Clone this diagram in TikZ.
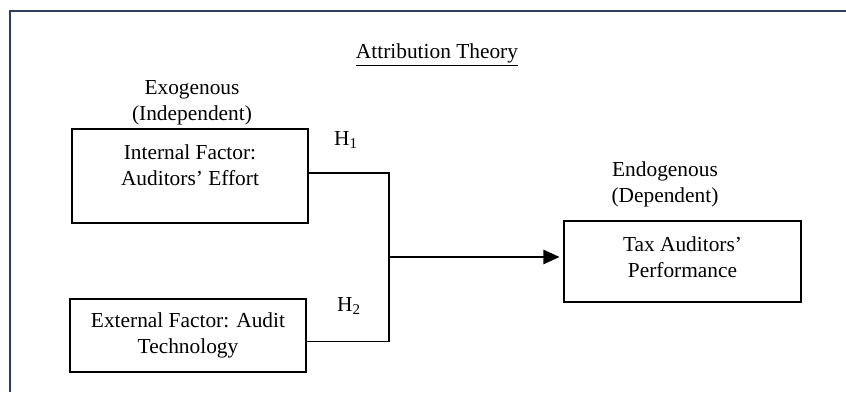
\documentclass[tikz,border=0pt]{standalone}
\usepackage{fontspec}
\setmainfont{Liberation Serif}
\usepackage{xcolor}
\definecolor{framblue}{RGB}{46,62,94}
\usepackage{tikz}
\usetikzlibrary{arrows.meta,positioning,calc}
\tikzset{
  factorbox/.style={draw=black, line width=0.75pt, inner sep=0pt},
  boxlabel/.style={align=center, inner sep=0pt, font=\fontsize{15.2}{18.5}\selectfont},
  plainlabel/.style={align=center, inner sep=0pt, font=\fontsize{15.2}{18.5}\selectfont},
  link/.style={line width=0.75pt, black}
}
\begin{document}
\begin{tikzpicture}
  \useasboundingbox (0,0) rectangle (21.15,9.8);
  \draw[framblue, line width=1.1pt] (0.25,0) -- (0.25,9.525) -- (21.15,9.525);

  \node[plainlabel] (title) at (10.925,8.42) {\underline{Attribution Theory}};
  \node[plainlabel] (exo) at (4.8,7.225) {Exogenous\\(Independent)};
  \node[plainlabel] (endo) at (16.625,5.2) {Endogenous\\(Dependent)};

  \node[factorbox, minimum width=5.9cm, minimum height=2.35cm]   (internal) at (4.75,5.4) {};
  \node[factorbox, minimum width=5.9cm, minimum height=1.825cm]  (external) at (4.7,1.4125) {};
  \node[factorbox, minimum width=5.925cm, minimum height=2.025cm] (perf) at (17.0625,3.2625) {};

  \node[boxlabel] (internaltxt) at ([yshift=-0.925cm]internal.north) {Internal Factor:\\Auditors’ Effort};
  \node[boxlabel] (externaltxt) at ([yshift=-0.925cm]external.north) {External Factor: Audit\\Technology};
  \node[boxlabel] (perftxt)     at ([yshift=-0.925cm]perf.north)     {Tax Auditors’\\Performance};

  \node[plainlabel] (h1) at (8.65,6.3)   {H\textsubscript{1}};
  \node[plainlabel] (h2) at (8.725,2.15) {H\textsubscript{2}};

  % meeting point of the two hypotheses
  \coordinate (split) at (9.725,3.375);
  \coordinate (inout) at ([yshift=0.075cm]internal.east);
  \coordinate (exout) at ([yshift=-0.14cm]external.east);
  \draw[link] (inout) -- (inout -| split) -- (exout -| split) -- (exout);
  \draw[link, -{Triangle[length=0.4cm,width=0.36cm]}, shorten >=0.1cm] (split) -- (split -| perf.west);
\end{tikzpicture}
\end{document}
